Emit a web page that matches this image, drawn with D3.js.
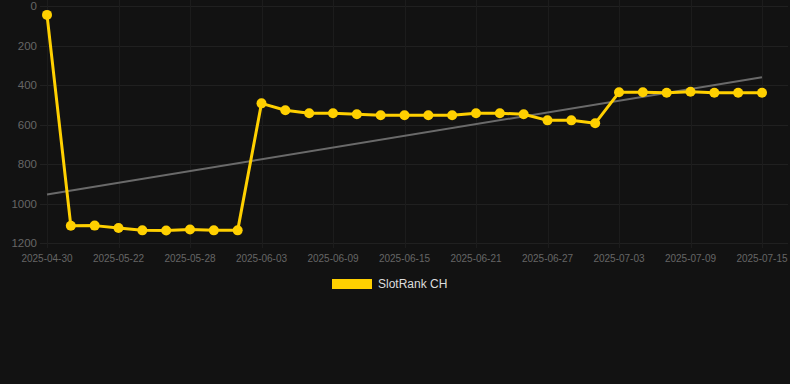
<!DOCTYPE html>
<html lang="en">
<head>
<meta charset="utf-8" />
<title>SlotRank CH</title>
<script src="https://cdn.jsdelivr.net/npm/d3@7"></script>
<style>
  html, body { margin: 0; padding: 0; background: #121212; }
  svg { display: block; font-family: Arial, "Liberation Sans", sans-serif; }
</style>
</head>
<body>
<div id="chart"></div>
<script>
var dates = ["2025-04-30", "2025-05-18", "2025-05-20", "2025-05-22", "2025-05-24", "2025-05-26",
  "2025-05-28", "2025-05-30", "2025-06-01", "2025-06-03", "2025-06-05", "2025-06-07",
  "2025-06-09", "2025-06-11", "2025-06-13", "2025-06-15", "2025-06-17", "2025-06-19",
  "2025-06-21", "2025-06-23", "2025-06-25", "2025-06-27", "2025-06-29", "2025-07-01",
  "2025-07-03", "2025-07-05", "2025-07-07", "2025-07-09", "2025-07-11", "2025-07-13",
  "2025-07-15"];
var ranks = [45, 1113, 1112, 1124, 1136, 1137, 1132, 1136, 1136, 493, 528, 543,
  543, 548, 553, 553, 553, 553, 543, 543, 548, 579, 579, 594,
  437, 437, 439, 434, 439, 439, 439];
var yTicks = [0, 200, 400, 600, 800, 1000, 1200];
var seriesName = "SlotRank CH";

var width = 790, height = 384;
var color = "#FFD000";

var svg = d3.select("#chart").append("svg")
  .attr("width", width)
  .attr("height", height);

var x = d3.scalePoint().domain(dates).range([47, 762]);
var y = d3.scaleLinear().domain([0, 1200]).range([6, 243]);

// grid
svg.append("g").selectAll("line").data(yTicks).enter().append("line")
  .attr("x1", 40).attr("x2", 788)
  .attr("y1", function(d) { return Math.round(y(d)) + 0.5; })
  .attr("y2", function(d) { return Math.round(y(d)) + 0.5; })
  .attr("stroke", "#202020").attr("stroke-width", 1);

var labelDates = dates.filter(function(d, i) { return i % 3 === 0; });
svg.append("g").selectAll("line").data(labelDates).enter().append("line")
  .attr("x1", function(d) { return Math.round(x(d)) + 0.5; })
  .attr("x2", function(d) { return Math.round(x(d)) + 0.5; })
  .attr("y1", 0).attr("y2", 248)
  .attr("stroke", "#1c1c1c").attr("stroke-width", 1);

// y axis labels
svg.append("g").selectAll("text").data(yTicks).enter().append("text")
  .attr("x", 37).attr("y", function(d) { return y(d); })
  .attr("dy", "0.35em")
  .attr("text-anchor", "end")
  .attr("font-size", 11.5)
  .attr("fill", "#666666")
  .text(function(d) { return d; });

// x axis labels
svg.append("g").selectAll("text").data(labelDates).enter().append("text")
  .attr("x", function(d) { return x(d); })
  .attr("y", 262)
  .attr("text-anchor", "middle")
  .attr("font-size", 10)
  .attr("fill", "#666666")
  .text(function(d) { return d; });

// trend line (least squares over the series)
var n = ranks.length;
var mx = d3.mean(ranks, function(d, i) { return i; });
var my = d3.mean(ranks);
var sxy = d3.sum(ranks, function(d, i) { return (i - mx) * (d - my); });
var sxx = d3.sum(ranks, function(d, i) { return (i - mx) * (i - mx); });
var slope = sxy / sxx, icpt = my - slope * mx;

svg.append("line")
  .attr("x1", x(dates[0])).attr("y1", y(icpt))
  .attr("x2", x(dates[n - 1])).attr("y2", y(icpt + slope * (n - 1)))
  .attr("stroke", "#6a6a6a").attr("stroke-width", 2);

// series
var line = d3.line()
  .x(function(d, i) { return x(dates[i]); })
  .y(function(d) { return y(d); });

svg.append("path")
  .datum(ranks)
  .attr("d", line)
  .attr("fill", "none")
  .attr("stroke", color)
  .attr("stroke-width", 3)
  .attr("stroke-linejoin", "round");

svg.append("g").selectAll("circle").data(ranks).enter().append("circle")
  .attr("cx", function(d, i) { return x(dates[i]); })
  .attr("cy", function(d) { return y(d); })
  .attr("r", 5)
  .attr("fill", color);

// legend
var legend = svg.append("g").attr("transform", "translate(332,279)");
legend.append("rect")
  .attr("width", 40).attr("height", 10)
  .attr("fill", color);
legend.append("text")
  .attr("x", 46).attr("y", 5)
  .attr("dy", "0.35em")
  .attr("font-size", 12)
  .attr("fill", "#dddddd")
  .text(seriesName);
</script>
</body>
</html>
